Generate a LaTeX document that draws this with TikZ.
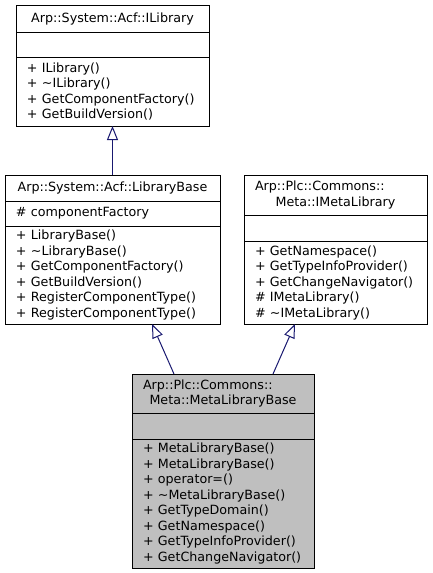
\documentclass[tikz,border=0pt]{standalone}
\usepackage{fontspec}
\setmainfont{DejaVu Sans}
\usetikzlibrary{arrows.meta,positioning}
\definecolor{edgeblue}{HTML}{191970}
\definecolor{boxgray}{HTML}{BFBFBF}

\begin{document}
\begin{tikzpicture}[x=1pt,y=-1pt,
  every node/.style={font=\fontsize{12.7}{15.5}\selectfont},
  part/.style={draw=black,line width=1pt,outer sep=0pt,inner xsep=11pt,inner ysep=0pt,align=left,anchor=north west},
  head/.style={part,align=center},
  inherit/.style={draw=edgeblue,line width=1pt,-{Triangle[open,length=14pt,width=11pt]}}]

  \useasboundingbox (0,0) rectangle (432,573);

  \node[head,text width=171pt,minimum height=27pt] (ilibT) at (16,5) {Arp::System::Acf::ILibrary};
  \node[part,text width=171pt,minimum height=25pt,below=0pt of ilibT] (ilibA) {};
  \node[part,text width=171pt,minimum height=69pt,below=0pt of ilibA] (ilibM)
    {+ ILibrary()\\+ \textasciitilde ILibrary()\\+ GetComponentFactory()\\+ GetBuildVersion()};

  \node[head,text width=193pt,minimum height=26pt] (libT) at (5,175) {Arp::System::Acf::LibraryBase};
  \node[part,text width=193pt,minimum height=25pt,below=0pt of libT] (libA) {\# componentFactory};
  \node[part,text width=193pt,minimum height=98pt,below=0pt of libA] (libM)
    {+ LibraryBase()\\+ \textasciitilde LibraryBase()\\+ GetComponentFactory()\\+ GetBuildVersion()\\+ RegisterComponentType()\\+ RegisterComponentType()};

  \node[head,text width=161pt,minimum height=40pt] (imlT) at (244,175)
    {\makebox[\linewidth][l]{Arp::Plc::Commons::}\\Meta::IMetaLibrary};
  \node[part,text width=161pt,minimum height=26pt,below=0pt of imlT] (imlA) {};
  \node[part,text width=161pt,minimum height=83pt,below=0pt of imlA] (imlM)
    {+ GetNamespace()\\+ GetTypeInfoProvider()\\+ GetChangeNavigator()\\\# IMetaLibrary()\\\# \textasciitilde IMetaLibrary()};

  \node[head,fill=boxgray,text width=160pt,minimum height=39pt] (mlbT) at (132,374)
    {\makebox[\linewidth][l]{Arp::Plc::Commons::}\\Meta::MetaLibraryBase};
  \node[part,fill=boxgray,text width=160pt,minimum height=26pt,below=0pt of mlbT] (mlbA) {};
  \node[part,fill=boxgray,text width=160pt,minimum height=129pt,below=0pt of mlbA] (mlbM)
    {+ MetaLibraryBase()\\+ MetaLibraryBase()\\+ operator=()\\+ \textasciitilde MetaLibraryBase()\\+ GetTypeDomain()\\+ GetNamespace()\\+ GetTypeInfoProvider()\\+ GetChangeNavigator()};

  \draw[inherit] (libT.north) -- (ilibM.south);
  \draw[inherit] ([xshift=-49pt]mlbT.north) -- ([xshift=39.5pt]libM.south);
  \draw[inherit] ([xshift=50pt]mlbT.north) -- ([xshift=-40.5pt]imlM.south);
\end{tikzpicture}
\end{document}
